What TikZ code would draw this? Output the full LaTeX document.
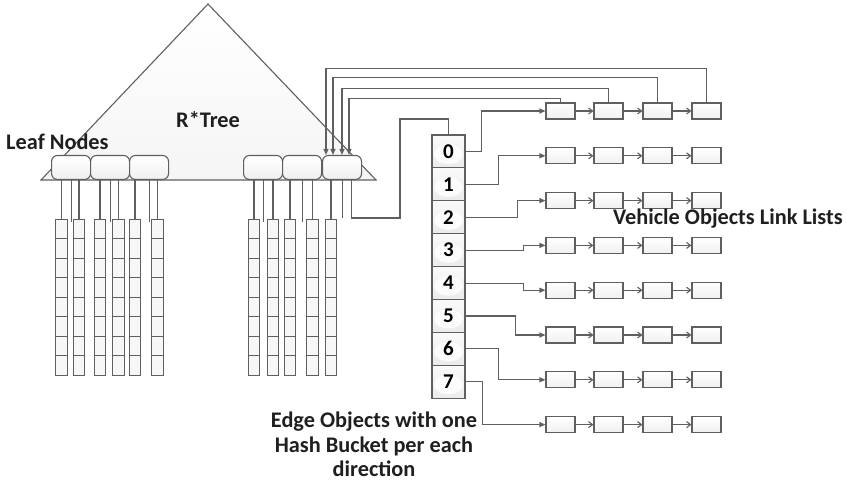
\documentclass[tikz,border=0pt]{standalone}
\usepackage{fontspec}
\setmainfont{Carlito}
\usetikzlibrary{arrows.meta}

\definecolor{linegray}{HTML}{5F5F5F}

\tikzset{
  edge line/.style={draw=linegray, line width=1.1pt},
  leafnode/.style={draw=linegray, line width=1.1pt, rounded corners=6pt, top color=white, bottom color=gray!12, minimum width=39pt, minimum height=24pt, inner sep=0pt},
  cellbox/.style={draw=linegray, line width=1pt, fill=gray!6, minimum width=11.5pt, minimum height=19.5pt, inner sep=0pt},
  bucketcell/.style={draw=linegray, line width=1.1pt, top color=gray!4, bottom color=gray!16, minimum width=33pt, minimum height=32.9pt, inner sep=0pt, font=\fontsize{21}{24}\selectfont\bfseries,
    path picture={\fill[white, opacity=0.8] (path picture bounding box.center) ++(0pt,-3pt) ellipse (14.5pt and 9.5pt);}},
  vehiclebox/.style={draw=linegray, line width=1.1pt, top color=white, bottom color=gray!12, minimum width=29pt, minimum height=16pt, inner sep=0pt},
  titletext/.style={font=\fontsize{22.3}{24.5}\selectfont\bfseries, inner sep=0pt, text=black!88},
}

\begin{document}
\begin{tikzpicture}[x=1pt, y=-1pt]
    \useasboundingbox (0,0) rectangle (847,483);

    % R*Tree triangle
    \draw[edge line, top color=white, bottom color=gray!8] (208,4) -- (376,180) -- (41,180) -- cycle;

    % Leaf nodes
    \foreach \i/\x in {1/51, 2/90, 3/129, 4/243, 5/282, 6/322}
        \node[leafnode, anchor=south west] (L\i) at (\x,180) {};

    % Columns of cells below the leaves
    \foreach \c/\x in {1/61.5, 2/79, 3/100, 4/118.5, 5/135, 6/157.5, 7/254, 8/273, 9/290, 10/312.5, 11/331}
        \foreach \r in {0,...,7}
            \node[cellbox] (C\c-\r) at (\x, 228.75+19.5*\r) {};

    % Leaf to column lines
    \foreach \l/\a/\b in {1/1/2, 2/3/4, 3/5/6, 4/7/8, 5/9/10} {
        \draw[edge line] (L\l.south -| C\a-0.north) -- (C\a-0.north);
        \draw[edge line] (L\l.south -| C\b-0.north) -- (C\b-0.north);
        \draw[edge line] (L\l.south) -- ++(0,42);
    }
    \draw[edge line] (L6.south -| C11-0.north) -- (C11-0.north);
    \draw[edge line] (L6.south) -- ++(0,38);

    % Hash bucket of the edge object
    \foreach \r in {0,...,7}
        \node[bucketcell] (B\r) at (448.5, 151.45+32.9*\r) {\r};

    % Leaf to bucket line
    \coordinate (loopdown) at (400,218);
    \coordinate (loopup) at (400,119);
    \draw[edge line] ([xshift=-11pt]L6.south east) |- (loopdown) -- (loopup) -| (B0.north);

    % Vehicle object lists
    \foreach \r in {0,...,7}
        \foreach \k/\x in {1/560.5, 2/608.5, 3/657.5, 4/706.5}
            \node[vehiclebox] (V\r-\k) at (\x, 111+44.8*\r) {};

    \foreach \r in {0,...,7}
        \foreach \k/\n in {1/2, 2/3, 3/4}
            \draw[edge line, -{Straight Barb[length=4pt, width=6pt]}] (V\r-\k) -- (V\r-\n);

    % Bucket to list lines
    \foreach \r/\d in {0/16, 1/33, 2/52, 3/58, 4/58, 5/50, 6/33, 7/17}
        \draw[edge line, -{Triangle[length=6pt, width=5pt]}] (B\r.east) -- ++(\d,0) |- (V\r-1.west);

    % First list back to the leaf
    \foreach \k/\u/\dx in {4/34/4, 3/25/11, 2/14/20, 1/4/27}
        \draw[edge line, -{Triangle[length=6pt, width=5pt]}] (V0-\k.north) -- ++(0,-\u) -| ([xshift=\dx pt]L6.north west);

    % Labels
    \node[titletext, anchor=base west] (leaftitle) at (6,149) {Leaf Nodes};
    \node[titletext, anchor=base west] (treetitle) at (176,127) {R*Tree};
    \node[titletext, anchor=base west] (listtitle) at (613,224) {Vehicle Objects Link Lists};
    \node[titletext, align=center, anchor=north] (edgetitle) at (374,412) {Edge Objects with one\\Hash Bucket per each\\direction};
\end{tikzpicture}
\end{document}
